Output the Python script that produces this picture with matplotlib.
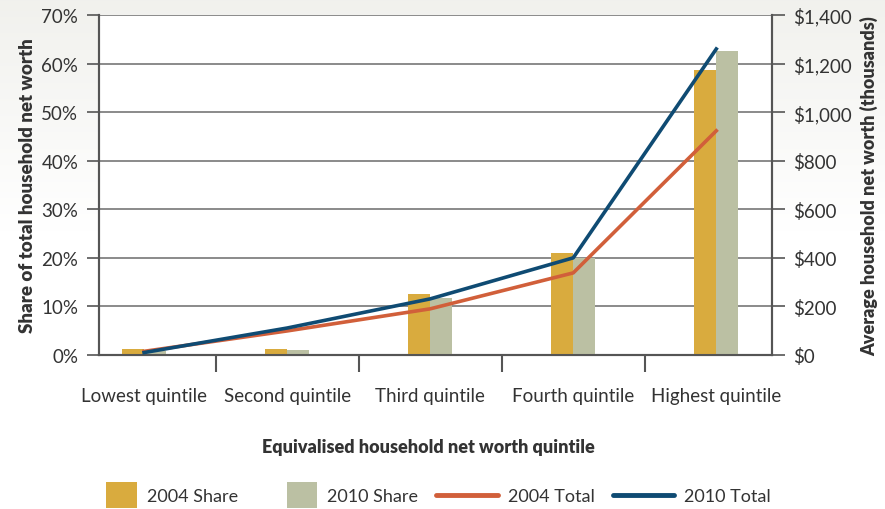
import matplotlib.pyplot as plt
import numpy as np
from matplotlib.patches import Patch, Rectangle
from matplotlib.lines import Line2D
from matplotlib.legend_handler import HandlerPatch
from matplotlib.ticker import FuncFormatter, MultipleLocator

plt.rcParams['font.family'] = ['Lato', 'DejaVu Sans']

quintiles = ['Lowest quintile', 'Second quintile', 'Third quintile',
             'Fourth quintile', 'Highest quintile']
share_2004 = [1.3, 1.2, 12.6, 21.0, 58.7]
share_2010 = [0.8, 1.0, 11.7, 20.0, 62.6]
total_2004 = [15, 99, 190, 338, 923]
total_2010 = [10, 111, 231, 400, 1260]

c_s04 = '#D9AB3E'
c_s10 = '#BBC0A3'
c_t04 = '#D15F3A'
c_t10 = '#0F4B73'
txt = '#333333'


class SquareHandler(HandlerPatch):
    # square-ish patch sitting at the right end of the (wide) handle box
    def create_artists(self, legend, orig, xd, yd, width, height, fontsize, trans):
        pw = height * 2.4
        r = Rectangle((xd + width - pw, yd - height * 0.5), pw, height * 2.0,
                      facecolor=orig.get_facecolor(), edgecolor='none', transform=trans)
        return [r]


fig = plt.figure(figsize=(8.85, 5.1), dpi=100)

# faint grey wash at the top of the figure
bg = fig.add_axes([0, 0, 1, 1], zorder=-10)
grad = np.linspace(0, 1, 256)[:, None]
grad = np.clip(1 - grad * 2.2, 0, 1)
top = np.array([0.945, 0.945, 0.93])
img = 1 - (1 - top) * grad[..., None]
bg.imshow(np.repeat(img, 4, axis=1), aspect='auto', extent=[0, 1, 0, 1], origin='upper')
bg.axis('off')

ax = fig.add_axes([0.1119, 0.302, 0.7605, 0.6667])
ax2 = ax.twinx()

x = np.arange(len(quintiles))
w = 0.155
ax.bar(x - w / 2, share_2004, w, color=c_s04, zorder=3)
ax.bar(x + w / 2, share_2010, w, color=c_s10, zorder=3)
ax.set_ylim(0, 70)
ax.yaxis.set_major_locator(MultipleLocator(10))
ax.yaxis.set_major_formatter(FuncFormatter(lambda v, p: '%d%%' % v))
ax.grid(axis='y', color='#8a8a8a', lw=1.4, zorder=0)
ax.set_axisbelow(True)

ax2.plot(x, total_2004, color=c_t04, lw=2.6, zorder=4)
ax2.plot(x, total_2010, color=c_t10, lw=2.6, zorder=4)
ax2.set_ylim(0, 1400)
ax2.yaxis.set_major_locator(MultipleLocator(200))
ax2.yaxis.set_major_formatter(FuncFormatter(lambda v, p: '${:,.0f}'.format(v)))

ax.set_xlim(-0.315, 4.39)
ax.set_xticks(x[:-1] + 0.5, minor=False)
ax.set_xticklabels([])
ax.set_xticks(x, minor=True)
ax.set_xticklabels(quintiles, minor=True)
ax.tick_params(axis='x', which='major', length=12, width=1.5, color='#555555')
ax.tick_params(axis='x', which='minor', length=0, pad=23, labelsize=13.5, labelcolor=txt)
ax.tick_params(axis='y', length=9, width=1.2, color='#555555', labelsize=13.5,
               labelcolor=txt, pad=6)
ax2.tick_params(axis='y', length=9, width=1.2, color='#555555', labelsize=13.5,
                labelcolor=txt, pad=6)

for a in (ax, ax2):
    a.spines['top'].set_visible(False)
    for s in ('left', 'right', 'bottom'):
        a.spines[s].set_color('#555555')
        a.spines[s].set_linewidth(1.5)

ax.set_ylabel('Share of total household net worth', fontsize=13.5,
              fontweight='heavy', color=txt, labelpad=4)
ax2.set_ylabel('Average household net worth (thousands)', fontsize=13,
               fontweight='heavy', color=txt, labelpad=6)
ax.set_xlabel('Equivalised household net worth quintile', fontsize=13,
              fontweight='heavy', color=txt)
ax.xaxis.set_label_coords(0.489, -0.245)

handles = [Patch(color=c_s04), Patch(color=c_s10),
           Line2D([], [], color=c_t04, lw=3.5, solid_capstyle='round'),
           Line2D([], [], color=c_t10, lw=3.5, solid_capstyle='round')]
labels = ['2004 Share', '2010 Share', '2004 Total', '2010 Total']
fig.legend(handles, labels, loc='center', bbox_to_anchor=(0.478, 0.025), ncol=4,
           frameon=False, fontsize=13, handlelength=3.4,
           columnspacing=1.0, handletextpad=0.55, labelcolor=txt,
           handler_map={Patch: SquareHandler()})

fig.savefig('out.png', dpi=100, facecolor='white')
